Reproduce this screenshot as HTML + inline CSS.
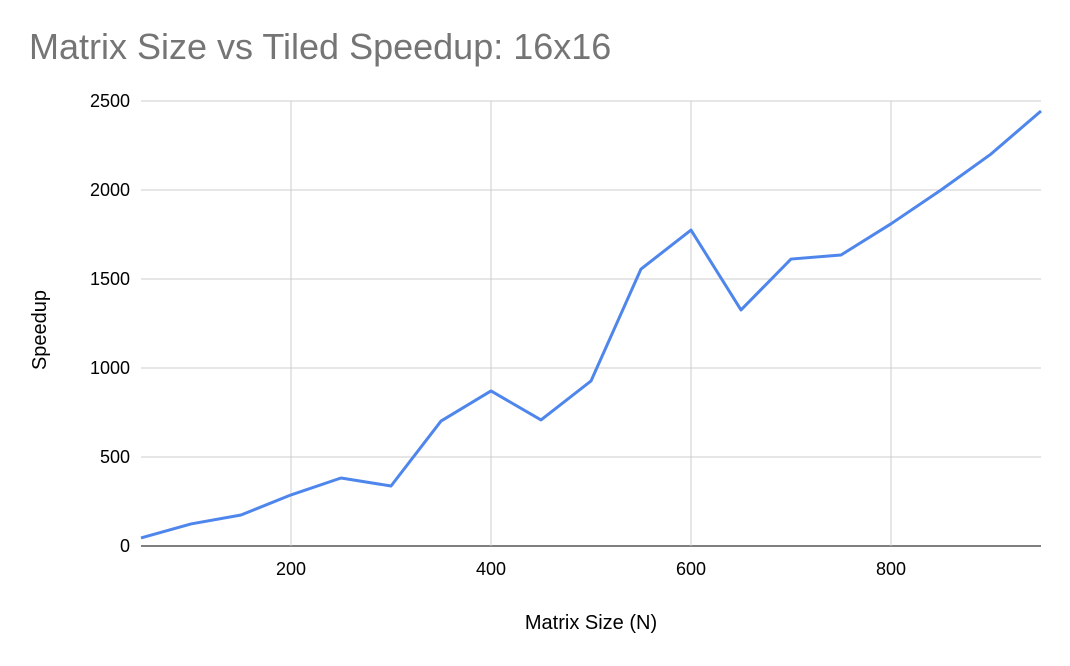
<!DOCTYPE html>
<html><head><meta charset="utf-8"><style>
body{margin:0;background:#fff;}
svg text{font-family:"Liberation Sans",Arial,sans-serif;}
</style></head><body>
<svg id="chart" width="1070" height="661" xmlns="http://www.w3.org/2000/svg">
<rect width="1070" height="661" fill="#fff"/>
<text x="29" y="59" font-size="36" fill="#757575">Matrix Size vs Tiled Speedup: 16x16</text>
<g id="grid"></g>
<g id="ticks"></g>
<text x="591" y="629" font-size="20" text-anchor="middle" fill="#000">Matrix Size (N)</text>
<text x="46" y="330" font-size="20" text-anchor="middle" fill="#000" transform="rotate(-90 46 330)">Speedup</text>
<g id="series"></g>
</svg>
<script>
const sizes=[50,100,150,200,250,300,350,400,450,500,550,600,650,700,750,800,850,900,950];
const speedups=[45,124,174,287,382,337,702,871,708,927,1556,1775,1326,1612,1635,1810,2000,2202,2444];
const xTicks=[200,400,600,800];
const yTicks=[0,500,1000,1500,2000,2500];
const NS='http://www.w3.org/2000/svg';
const x=v=>141+(v-50)*1.0;
const y=v=>546-v*(445/2500);
const grid=document.getElementById('grid'),ticks=document.getElementById('ticks'),series=document.getElementById('series');
function mk(t,a,p){const e=document.createElementNS(NS,t);for(const k in a)e.setAttribute(k,a[k]);p.appendChild(e);return e;}
yTicks.forEach(v=>{
 const l=mk('line',{x1:141,x2:1041,y1:y(v),y2:y(v),stroke:v===0?'#333':'#ccc','stroke-width':v===0?1.3:1},grid);
 
 
 const t=mk('text',{x:130,y:y(v)+6,'font-size':18,'text-anchor':'end',fill:'#000'},ticks);
 t.textContent=v;
 
 
});
xTicks.forEach(v=>{
 const l=mk('line',{x1:x(v),x2:x(v),y1:101,y2:546,stroke:'#ccc','stroke-width':1},grid);
 
 
 const t=mk('text',{x:x(v),y:575,'font-size':18,'text-anchor':'middle',fill:'#000'},ticks);
 t.textContent=v;
 
 
});
const pts=sizes.map((s,i)=>x(s)+','+y(speedups[i])).join(' ');
const pl=mk('polyline',{points:pts,fill:'none',stroke:'#4f86ec','stroke-width':3,'stroke-linejoin':'round'},series);


</script>
</body></html>
